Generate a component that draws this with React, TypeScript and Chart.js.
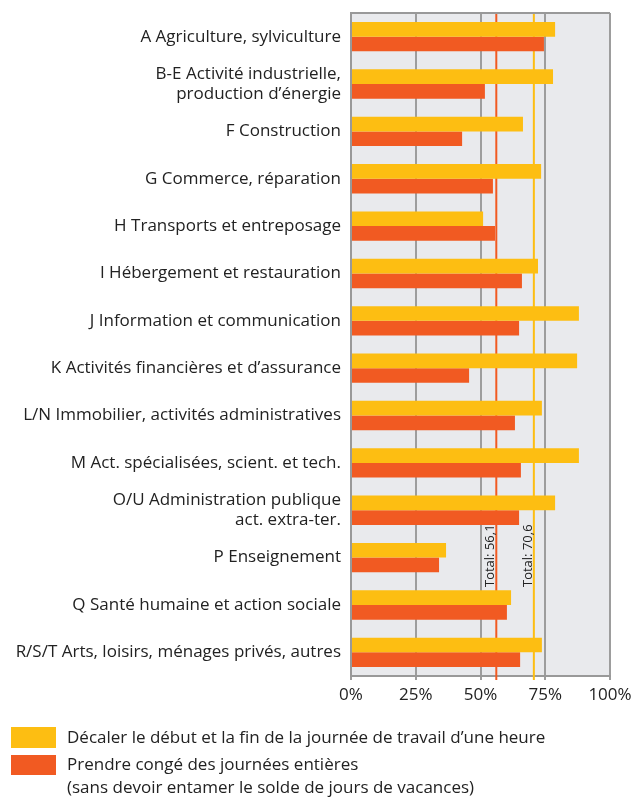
import React, { useEffect, useRef } from "react";
import { Chart, registerables } from "chart.js";

Chart.register(...registerables);

const categories: (string | string[])[] = [
  "A Agriculture, sylviculture",
  ["B-E Activité industrielle,", "production d’énergie"],
  "F Construction",
  "G Commerce, réparation",
  "H Transports et entreposage",
  "I Hébergement et restauration",
  "J Information et communication",
  "K Activités financières et d’assurance",
  "L/N Immobilier, activités administratives",
  "M Act. spécialisées, scient. et tech.",
  ["O/U Administration publique", "act. extra-ter."],
  "P Enseignement",
  "Q Santé humaine et action sociale",
  "R/S/T Arts, loisirs, ménages privés, autres",
];

const seriesShiftLabel = "Décaler le début et la fin de la journée de travail d’une heure";
const seriesShift = [78.8, 78.0, 66.4, 73.4, 51.0, 72.2, 88.0, 87.3, 73.7, 88.0, 78.8, 36.7, 61.8, 73.7];

const seriesDaysLabel = ["Prendre congé des journées entières", "(sans devoir entamer le solde de jours de vacances)"];
const seriesDays = [74.5, 51.7, 42.9, 54.8, 55.6, 66.0, 64.9, 45.6, 63.3, 65.6, 64.9, 34.0, 60.2, 65.3];

const totals = [
  { value: 56.1, label: "Total: 56,1", color: "#F15A22" },
  { value: 70.6, label: "Total: 70,6", color: "#FDBE12" },
];

const xTicks = [0, 25, 50, 75, 100];

const YELLOW = "#FDBE12";
const ORANGE = "#F15A22";
const FONT = "'Open Sans', sans-serif";

export default function App() {
  const ref = useRef<HTMLCanvasElement | null>(null);

  useEffect(() => {
    if (!ref.current) return;

    const framePlugin = {
      id: "frame",
      beforeDraw(chart: any) {
        const { ctx, chartArea: a } = chart;
        ctx.save();
        ctx.fillStyle = "#E9EAED";
        ctx.fillRect(a.left, a.top, a.right - a.left, a.bottom - a.top);
        ctx.restore();
      },
      beforeDatasetsDraw(chart: any) {
        const { ctx, chartArea: a } = chart;
        const xs = chart.scales.x;
        ctx.save();
        totals.forEach((t) => {
          const x = xs.getPixelForValue(t.value);
          ctx.strokeStyle = t.color;
          ctx.lineWidth = 2;
          ctx.beginPath();
          ctx.moveTo(x, a.top);
          ctx.lineTo(x, a.bottom + 4);
          ctx.stroke();
          ctx.save();
          ctx.translate(x - 2, 587);
          ctx.rotate(-Math.PI / 2);
          ctx.fillStyle = "#222";
          ctx.font = `13px ${FONT}`;
          ctx.textAlign = "left";
          ctx.textBaseline = "alphabetic";
          ctx.fillText(t.label, 0, 0);
          ctx.restore();
        });
        ctx.restore();
      },
      afterDraw(chart: any) {
        const { ctx, chartArea: a } = chart;
        ctx.save();
        ctx.strokeStyle = "#999";
        ctx.lineWidth = 2;
        ctx.beginPath();
        ctx.moveTo(a.left, a.top);
        ctx.lineTo(a.right, a.top);
        ctx.stroke();
        // legend
        ctx.fillStyle = YELLOW;
        ctx.fillRect(11, 727, 45, 21);
        ctx.fillStyle = ORANGE;
        ctx.fillRect(11, 755, 45, 20);
        ctx.fillStyle = "#222";
        ctx.font = `17px ${FONT}`;
        ctx.textAlign = "left";
        ctx.textBaseline = "middle";
        ctx.fillText(seriesShiftLabel, 67, 738);
        ctx.fillText(seriesDaysLabel[0], 67, 765);
        ctx.fillText(seriesDaysLabel[1], 67, 788);
        ctx.restore();
      },
    };

    const chart = new Chart(ref.current, {
      type: "bar",
      data: {
        labels: categories,
        datasets: [
          { label: seriesShiftLabel, data: seriesShift, backgroundColor: YELLOW, categoryPercentage: 0.62, barPercentage: 1 },
          { label: seriesDaysLabel.join(" "), data: seriesDays, backgroundColor: ORANGE, categoryPercentage: 0.62, barPercentage: 1 },
        ],
      },
      options: {
        indexAxis: "y",
        animation: false,
        responsive: false,
        layout: { padding: { top: 13, right: 22, left: 0, bottom: 0 } },
        plugins: { legend: { display: false }, tooltip: { enabled: false } },
        scales: {
          x: {
            min: 0,
            max: 100,
            afterBuildTicks(scale: any) {
              scale.ticks = xTicks.map((v) => ({ value: v }));
            },
            afterFit(scale: any) {
              scale.height = 121;
              scale.paddingLeft = 0;
              scale.paddingRight = 0;
            },
            ticks: {
              callback: (v: any) => v + "%",
              color: "#222",
              font: { size: 17, family: FONT },
              padding: 5,
              maxRotation: 0,
            },
            grid: { color: "#9d9d9d", lineWidth: 2, tickLength: 4, drawTicks: true },
            border: { color: "#999", width: 2 },
          },
          y: {
            afterFit(scale: any) {
              scale.width = 351;
              scale.paddingTop = 0;
              scale.paddingBottom = 0;
            },
            ticks: {
              color: "#222",
              font: { size: 17, family: FONT, lineHeight: 1.2 },
              padding: 10,
              autoSkip: false,
            },
            grid: { display: false, drawTicks: false },
            border: { color: "#999", width: 2 },
          },
        },
      },
      plugins: [framePlugin],
    } as any);

    return () => chart.destroy();
  }, []);

  return (
    <div style={{ position: "absolute", left: 0, top: 0, width: 632, height: 797 }}>
      <canvas ref={ref} width={632} height={797} style={{ display: "block" }} />
    </div>
  );
}
